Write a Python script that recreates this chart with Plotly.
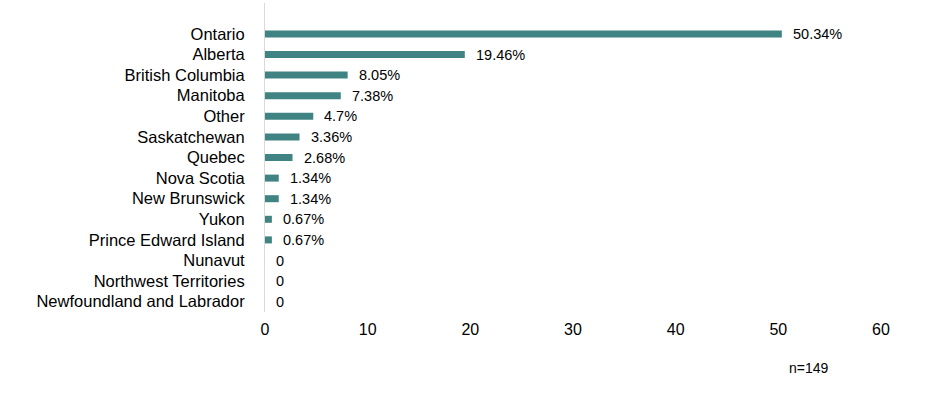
import plotly.graph_objects as go

categories = ["Ontario", "Alberta", "British Columbia", "Manitoba", "Other",
              "Saskatchewan", "Quebec", "Nova Scotia", "New Brunswick", "Yukon",
              "Prince Edward Island", "Nunavut", "Northwest Territories",
              "Newfoundland and Labrador"]
values = [50.34, 19.46, 8.05, 7.38, 4.7, 3.36, 2.68, 1.34, 1.34, 0.67, 0.67, 0, 0, 0]
labels = [("%g%%" % v) if v > 0 else "0" for v in values]
x_ticks = [0, 10, 20, 30, 40, 50, 60]
note = "n=149"

cats_r = categories[::-1]
vals_r = values[::-1]
labs_r = labels[::-1]

FONT = "Liberation Sans, Arial"

fig = go.Figure(go.Bar(
    y=cats_r, x=vals_r, orientation="h",
    marker=dict(color="#3F8482", line=dict(width=0)),
    width=0.34,
    hoverinfo="x+y",
))

annotations = [dict(x=v, y=c, text=t, xref="x", yref="y", xanchor="left",
                    yanchor="middle", xshift=9, showarrow=False,
                    font=dict(family=FONT, size=14.5, color="#000000"))
               for c, v, t in zip(cats_r, vals_r, labs_r)]
annotations.append(dict(text=note, xref="paper", yref="paper", x=0.883, y=-0.181,
                        xanchor="center", yanchor="middle", showarrow=False,
                        font=dict(family=FONT, size=14, color="#000000")))

fig.update_layout(
    width=934, height=398,
    margin=dict(l=265, r=53, t=3, b=86),
    paper_bgcolor="white", plot_bgcolor="white",
    font=dict(family=FONT, color="#000000"),
    showlegend=False,
    xaxis=dict(range=[0, 60], tickvals=x_ticks, showgrid=False, zeroline=False,
               showline=False, ticks="outside", ticklen=3, tickcolor="rgba(0,0,0,0)",
               tickfont=dict(size=16)),
    yaxis=dict(type="category", range=[-0.5, 14.5], showgrid=False, zeroline=False,
               showline=True, linecolor="#D9D9D9", linewidth=1,
               ticks="outside", ticklen=16, tickcolor="rgba(0,0,0,0)",
               tickfont=dict(size=16.5)),
    annotations=annotations,
)

fig.write_html("out.html", config={"displayModeBar": False},
               post_script="document.body.style.margin='0px';")
